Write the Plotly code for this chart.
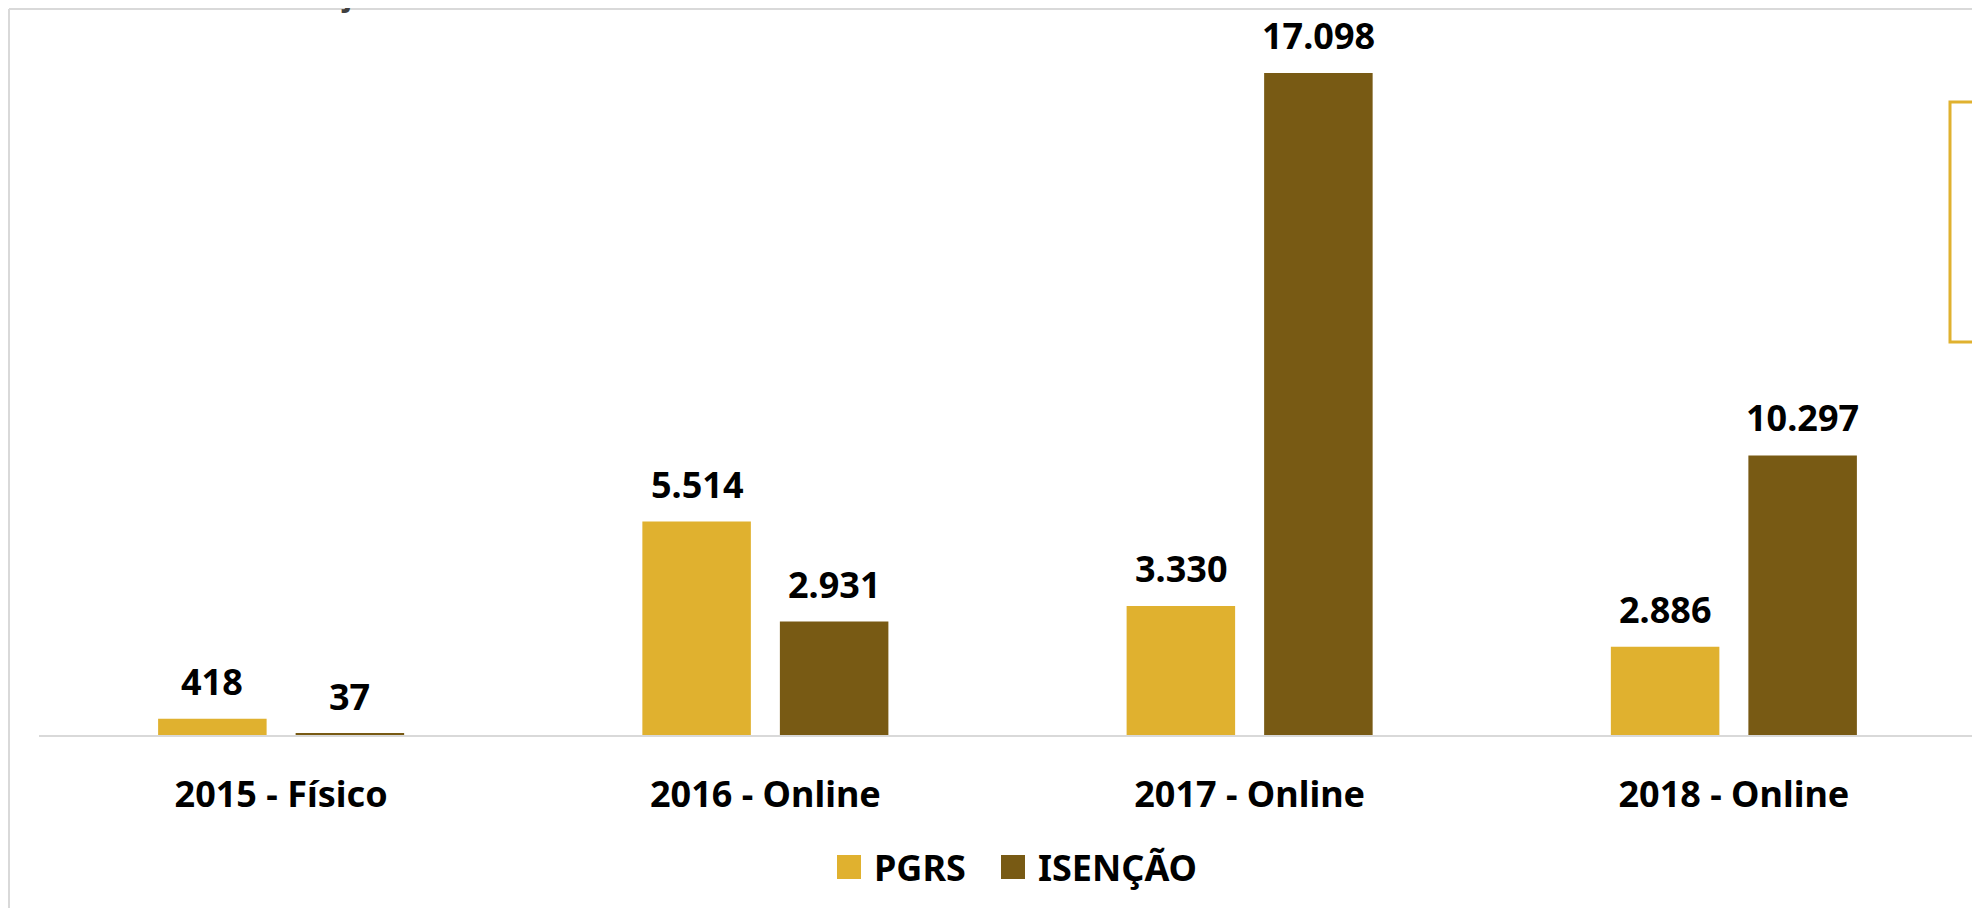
import plotly.graph_objects as go

categories = ["2015 - Físico", "2016 - Online", "2017 - Online", "2018 - Online"]
# values printed on the chart
pgrs_labels = [418, 5514, 3330, 2886]
isencao_labels = [37, 2931, 17098, 10297]
# bar heights as drawn in the original (2018 bars are drawn shorter than their labels)
pgrs_heights = [418, 5514, 3330, 2280]
isencao_heights = [37, 2931, 17098, 7220]
series_names = ["PGRS", "ISENÇÃO"]
colors = ["#E0B12F", "#785A14"]
note_text = "*Dados de 30 de junho"

FONT = "Noto Sans"

# page offset of the figure (default body margin of the html page)
OFF = 8
W, H = 1980 - OFF, 908 - OFF
ML, MR, MT, MB = 31, 4, 1, 173
PW, PH = W - ML - MR, H - MT - MB

def px_x(p):
    """page pixel x -> paper x"""
    return (p - OFF - ML) / PW

def px_y(p):
    """page pixel y -> paper y"""
    return (H - MB - (p - OFF)) / PH

fig = go.Figure()
for name, vals, col in zip(series_names, [pgrs_heights, isencao_heights], colors):
    fig.add_trace(go.Bar(
        x=categories, y=vals, name=name,
        marker=dict(color=col, line=dict(width=0)),
        showlegend=False,
    ))

def fmt(v):
    return f"{v:,}".replace(",", ".")

annotations = []
for shift, heights, labels in zip([-68.8, 68.8],
                                  [pgrs_heights, isencao_heights],
                                  [pgrs_labels, isencao_labels]):
    for c, h, lab in zip(categories, heights, labels):
        annotations.append(dict(
            x=c, y=h, xref="x", yref="y", text=fmt(lab), showarrow=False,
            xshift=shift, yshift=11, yanchor="bottom", xanchor="center",
            font=dict(family=FONT, size=36, color="#000000", weight="bold"),
        ))

# note text, cut off at the top edge as in the original screenshot
annotations.append(dict(
    x=px_x(93), y=px_y(17), xref="paper", yref="paper", text=note_text,
    showarrow=False, xanchor="left", yanchor="bottom",
    font=dict(family=FONT, size=30, color="#404040", weight="bold"),
))

shapes = [
    dict(type="line", xref="paper", yref="paper", x0=px_x(9), x1=px_x(9),
         y0=px_y(9), y1=-0.3, line=dict(color="#D9D9D9", width=2)),
    dict(type="line", xref="paper", yref="paper", x0=px_x(9), x1=1.1,
         y0=px_y(9), y1=px_y(9), line=dict(color="#D9D9D9", width=2)),
    dict(type="rect", xref="paper", yref="paper", x0=px_x(1950), x1=1.05,
         y0=px_y(342), y1=px_y(102), line=dict(color="#E0B12F", width=3),
         fillcolor="rgba(0,0,0,0)"),
]

# custom legend (larger swatches than plotly's built-in legend allows)
legend_sq_left = [837, 1001]
legend_text_left = [872, 1036]
legend_cy = 867
for name, col, sx, tx in zip(series_names, colors, legend_sq_left, legend_text_left):
    shapes.append(dict(type="rect", xref="paper", yref="paper",
                       x0=px_x(sx), x1=px_x(sx + 24),
                       y0=px_y(legend_cy + 12), y1=px_y(legend_cy - 12),
                       line=dict(width=0), fillcolor=col))
    annotations.append(dict(
        x=px_x(tx), y=px_y(legend_cy), xref="paper", yref="paper", text=name,
        showarrow=False, xanchor="left", yanchor="middle",
        font=dict(family=FONT, size=36, color="#000000", weight="bold"),
    ))

fig.update_layout(
    width=W, height=H,
    margin=dict(l=ML, r=MR, t=MT, b=MB, autoexpand=False),
    paper_bgcolor="white", plot_bgcolor="white",
    barmode="group", bargap=0.432, bargroupgap=0.211,
    showlegend=False,
    annotations=annotations,
    shapes=shapes,
    font=dict(family=FONT),
)
fig.update_xaxes(
    showline=True, linecolor="#D9D9D9", linewidth=2, showgrid=False,
    ticks="", tickfont=dict(family=FONT, size=36, color="#000000", weight="bold"),
    ticklabelstandoff=27, automargin=False,
)
fig.update_yaxes(visible=False, range=[0, 18750], showgrid=False, zeroline=False,
                 automargin=False)

fig.write_html("out.html")
